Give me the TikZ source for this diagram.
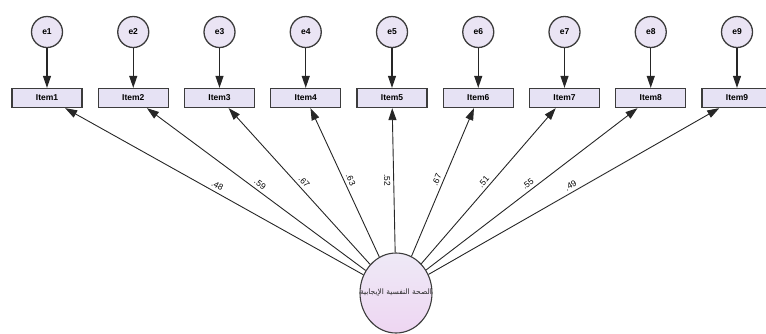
\documentclass[tikz,border=0pt]{standalone}
\usepackage{fontspec}
\setmainfont{Liberation Sans}
\newfontfamily\arabicfont[Script=Arabic]{DejaVu Sans}
\TeXXeTstate=1
\usetikzlibrary{arrows.meta,shapes.geometric}
\definecolor{errfill}{RGB}{234,228,244}
\definecolor{obsfill}{RGB}{230,226,244}
\definecolor{linegray}{RGB}{60,60,60}

\begin{document}
\begin{tikzpicture}[x=1pt,y=-1pt,
    err/.style={circle,draw=linegray,line width=1.3pt,fill=errfill,minimum size=31pt,inner sep=0pt,font=\bfseries\fontsize{8.5}{9}\selectfont},
    obs/.style={rectangle,draw=linegray,line width=1.3pt,fill=obsfill,minimum width=70pt,minimum height=19pt,inner sep=0pt,font=\bfseries\fontsize{8.5}{9}\selectfont},
    errarrow/.style={-{Triangle[length=12pt,width=8pt]},line width=1.1pt,draw=black!85},
    load/.style={-{Triangle[length=12pt,width=8pt]},line width=0.9pt,draw=black!85},
    coef/.style={pos=0.5,sloped,above,font=\fontsize{8.5}{9}\selectfont,inner sep=3pt}]
    \useasboundingbox (0,0) rectangle (766,333);

    % error terms
    \node[err] (e1) at (47, 32) {e1};
    \node[err] (e2) at (133.25, 32) {e2};
    \node[err] (e3) at (219.5, 32) {e3};
    \node[err] (e4) at (305.75, 32) {e4};
    \node[err] (e5) at (392, 32) {e5};
    \node[err] (e6) at (478.25, 32) {e6};
    \node[err] (e7) at (564.5, 32) {e7};
    \node[err] (e8) at (650.75, 32) {e8};
    \node[err] (e9) at (737, 32) {e9};

    % items
    \node[obs] (item1) at (47, 98) {Item1};
    \node[obs] (item2) at (133.25, 98) {Item2};
    \node[obs] (item3) at (219.5, 98) {Item3};
    \node[obs] (item4) at (305.75, 98) {Item4};
    \node[obs] (item5) at (392, 98) {Item5};
    \node[obs] (item6) at (478.25, 98) {Item6};
    \node[obs] (item7) at (564.5, 98) {Item7};
    \node[obs] (item8) at (650.75, 98) {Item8};
    \node[obs] (item9) at (737, 98) {Item9};

    \draw[errarrow] (e1) -- (item1);
    \draw[errarrow] (e2) -- (item2);
    \draw[errarrow] (e3) -- (item3);
    \draw[errarrow] (e4) -- (item4);
    \draw[errarrow] (e5) -- (item5);
    \draw[errarrow] (e6) -- (item6);
    \draw[errarrow] (e7) -- (item7);
    \draw[errarrow] (e8) -- (item8);
    \draw[errarrow] (e9) -- (item9);

    % latent factor
    \node[ellipse,draw=linegray,line width=1.1pt,top color=errfill!80!white,bottom color={rgb,255:red,238;green,214;blue,242},minimum width=72pt,minimum height=80pt,inner sep=0pt] (pmh) at (396, 293) {};
    \node[font=\arabicfont\fontsize{7.5}{9}\selectfont,text=black!85,inner sep=0pt] (pmhname) at (pmh.center) {\beginR الصحة النفسية الإيجابية\endR};

    \draw[load] (pmh) -- (item1) node[coef] {.48};
    \draw[load] (pmh) -- (item2) node[coef] {.59};
    \draw[load] (pmh) -- (item3) node[coef] {.67};
    \draw[load] (pmh) -- (item4) node[coef] {.63};
    \draw[load] (pmh) -- (item5) node[coef,above=false,below] {.52};
    \draw[load] (pmh) -- (item6) node[coef] {.67};
    \draw[load] (pmh) -- (item7) node[coef] {.51};
    \draw[load] (pmh) -- (item8) node[coef] {.55};
    \draw[load] (pmh) -- (item9) node[coef] {.49};
  \end{tikzpicture}
\end{document}
